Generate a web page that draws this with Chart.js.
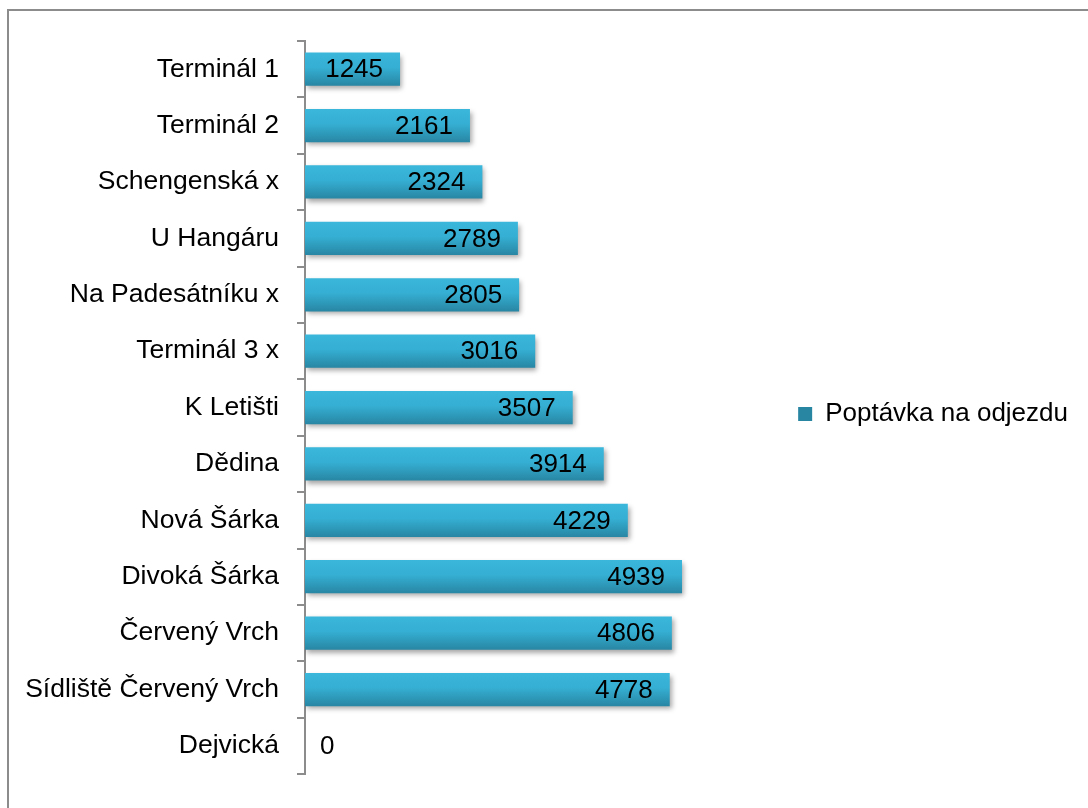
<!DOCTYPE html>
<html>
<head>
<meta charset="utf-8">
<script src="https://cdn.jsdelivr.net/npm/chart.js@4.4.1/dist/chart.umd.min.js"></script>
<style>
  html, body { margin: 0; padding: 0; background: #fff; overflow: hidden; }
  #wrap { position: relative; width: 1088px; height: 808px; }
  #frame { position: absolute; left: 7px; top: 9px; width: 2000px; height: 2000px;
           border-top: 2px solid #8c8c8c; border-left: 2px solid #8c8c8c; pointer-events: none; }
  canvas { position: absolute; left: 0; top: 0; }
</style>
</head>
<body>
<div id="wrap">
  <canvas id="c" width="1088" height="808"></canvas>
  <div id="frame"></div>
</div>
<script>
const categories = [
  "Terminál 1", "Terminál 2", "Schengenská x", "U Hangáru", "Na Padesátníku x",
  "Terminál 3 x", "K Letišti", "Dědina", "Nová Šárka", "Divoká Šárka",
  "Červený Vrch", "Sídliště Červený Vrch", "Dejvická"
];
const demandValues = [1245, 2161, 2324, 2789, 2805, 3016, 3507, 3914, 4229, 4939, 4806, 4778, 0];
const seriesName = "Poptávka na odjezdu";

const FONT = "'Liberation Sans', Arial, sans-serif";
const BAR_PCT = 0.59;

function barFill(ctx) {
  const chart = ctx.chart;
  const solid = '#34accf';
  if (ctx.dataIndex === undefined || !chart.chartArea || !chart.scales.y) return solid;
  const y = chart.scales.y;
  const c = y.getPixelForValue(ctx.dataIndex);
  const h = (y.height / categories.length) * BAR_PCT;
  const g = chart.ctx.createLinearGradient(0, c - h / 2, 0, c + h / 2);
  g.addColorStop(0, '#3ab7db');
  g.addColorStop(0.45, '#35afd3');
  g.addColorStop(1, '#2886a3');
  return g;
}

const shadowPlugin = {
  id: 'barShadow',
  beforeDatasetDraw(chart) {
    const c = chart.ctx;
    c.save();
    c.shadowColor = 'rgba(0,0,0,0.35)';
    c.shadowBlur = 5;
    c.shadowOffsetX = 2;
    c.shadowOffsetY = 3;
  },
  afterDatasetDraw(chart) {
    chart.ctx.restore();
  }
};

const valueLabels = {
  id: 'valueLabels',
  afterDatasetsDraw(chart) {
    const c = chart.ctx;
    const meta = chart.getDatasetMeta(0);
    const data = chart.data.datasets[0].data;
    c.save();
    c.font = "26px " + FONT;
    c.fillStyle = '#000';
    c.textBaseline = 'middle';
    meta.data.forEach((bar, i) => {
      const v = data[i];
      if (v === 0) {
        c.textAlign = 'left';
        c.fillText(String(v), bar.base + 15, bar.y + 1);
      } else {
        c.textAlign = 'right';
        c.fillText(String(v), bar.x - 17, bar.y + 1);
      }
    });
    c.restore();
  }
};

new Chart(document.getElementById('c'), {
  type: 'bar',
  data: {
    labels: categories,
    datasets: [{
      label: seriesName,
      data: demandValues,
      backgroundColor: barFill,
      borderWidth: 0,
      barPercentage: BAR_PCT,
      categoryPercentage: 1.0
    }]
  },
  options: {
    indexAxis: 'y',
    responsive: false,
    animation: false,
    layout: { padding: { top: 41, bottom: 21, left: 0, right: 10 } },
    plugins: {
      legend: {
        position: 'right',
        maxWidth: 400,
        labels: {
          boxWidth: 14, boxHeight: 14, padding: 5,
          color: '#000',
          font: { size: 26, family: FONT }
        }
      },
      tooltip: { enabled: false }
    },
    scales: {
      x: { display: false, min: 0, max: 6395 },
      y: {
        grid: { display: true, drawOnChartArea: false, drawTicks: true, tickLength: 8, color: '#8c8c8c', lineWidth: 2 },
        border: { display: true, color: '#8c8c8c', width: 2 },
        ticks: { color: '#000', padding: 18, font: { size: 26.5, family: FONT } },
        afterFit(scale) { scale.width = 305; }
      }
    }
  },
  plugins: [shadowPlugin, valueLabels]
});
</script>
</body>
</html>
